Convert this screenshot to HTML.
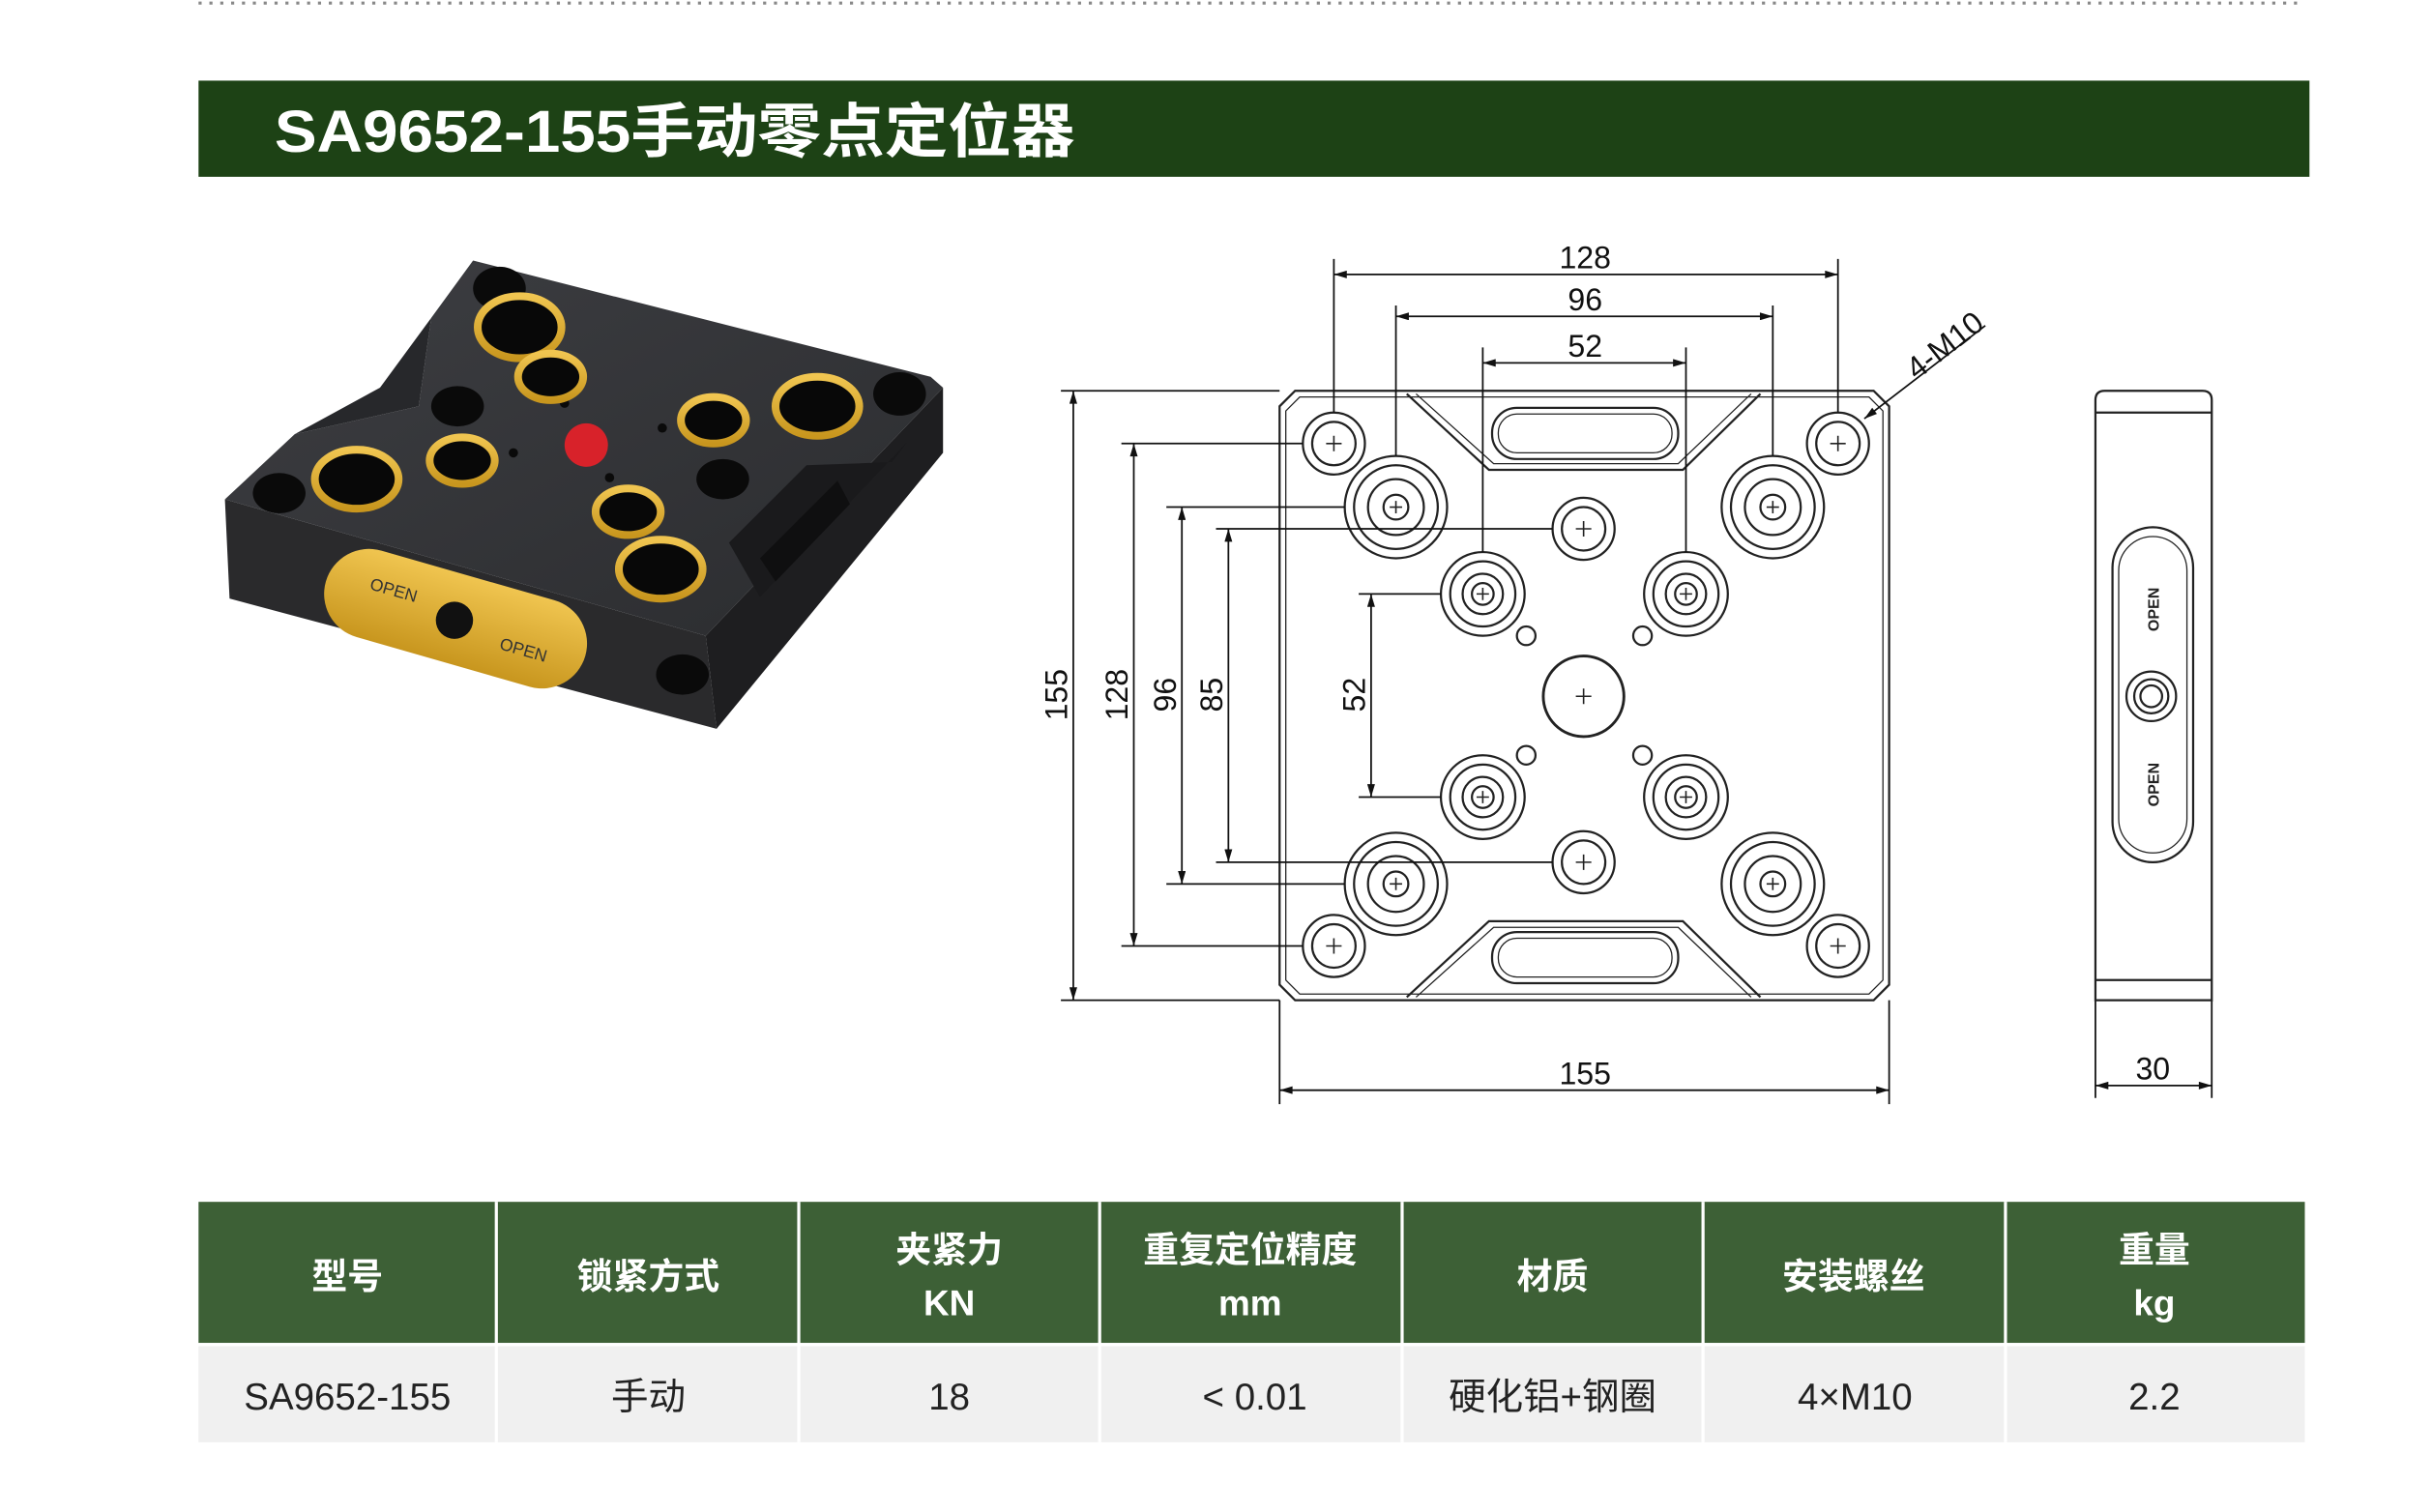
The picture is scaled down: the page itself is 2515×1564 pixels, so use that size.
<!DOCTYPE html>
<html><head><meta charset="utf-8"><style>
html,body{margin:0;padding:0;background:#fff;width:2515px;height:1564px;overflow:hidden}
svg{display:block}
</style></head><body>
<svg width="2515" height="1564" viewBox="0 0 1568 975" preserveAspectRatio="none" xmlns="http://www.w3.org/2000/svg">
<defs>
<marker id="a" viewBox="0 0 10 6" refX="10" refY="3" markerWidth="12" markerHeight="5" orient="auto-start-reverse" markerUnits="userSpaceOnUse"><path d="M0,0L10,3L0,6z" fill="#111"/></marker>
<linearGradient id="top" x1="0" y1="0" x2="1" y2="1"><stop offset="0" stop-color="#3d3e42"/><stop offset="1" stop-color="#2b2c2f"/></linearGradient>
<linearGradient id="gold" x1="0" y1="0" x2="0" y2="1"><stop offset="0" stop-color="#f0c550"/><stop offset="1" stop-color="#c8961e"/></linearGradient>
</defs>
<line x1="128" y1="2" x2="1485" y2="2" stroke="#888" stroke-width="2" stroke-dasharray="2,5"/>
<rect x="128" y="52" width="1361" height="62" fill="#1d4215"/>
<text x="177" y="98" fill="#fff" font-family="Liberation Sans Narrow,Liberation Sans,Noto Sans CJK SC,sans-serif" font-weight="bold" font-size="38" textLength="516" lengthAdjust="spacingAndGlyphs">SA9652-155手动零点定位器</text>

<!-- photo -->
<g>
<polygon points="145,322 455,410 462,470 148,386" fill="#2a2a2c"/>
<polygon points="455,410 608,250 608,292 462,470" fill="#1e1e20"/>
<polygon points="145,322 190,280 270,262 278,205 305,168 600,243 608,250 455,410" fill="url(#top)"/>
<polygon points="190,280 270,262 278,205 245,250" fill="#27282b"/>
<polygon points="470,350 520,300 575,298 585,285 490,385" fill="#1a1a1c"/>
<polygon points="490,360 540,310 548,325 500,375" fill="#0f0f10"/>
<g fill="#0a0a0a">
<ellipse cx="322" cy="186" rx="17" ry="14"/><ellipse cx="580" cy="254" rx="17" ry="14"/><ellipse cx="295" cy="262" rx="17" ry="13"/><ellipse cx="466" cy="309" rx="17" ry="13"/><ellipse cx="180" cy="318" rx="17" ry="13"/><ellipse cx="440" cy="435" rx="17" ry="13"/>
<circle cx="364" cy="260" r="3"/><circle cx="427" cy="276" r="3"/><circle cx="331" cy="292" r="3"/><circle cx="393" cy="308" r="3"/>
</g>
<g stroke="url(#gold)" stroke-width="5" fill="#080808">
<ellipse cx="335" cy="211" rx="27" ry="20"/><ellipse cx="355" cy="243" rx="21" ry="15"/><ellipse cx="527" cy="262" rx="27" ry="19"/><ellipse cx="460" cy="271" rx="21" ry="15"/><ellipse cx="298" cy="297" rx="21" ry="15"/><ellipse cx="230" cy="309" rx="27" ry="19"/><ellipse cx="405" cy="330" rx="21" ry="15"/><ellipse cx="426" cy="367" rx="27" ry="19"/>
</g>
<circle cx="378" cy="287" r="14" fill="#d8222a"/>
<g transform="rotate(16 294 398)"><rect x="207" y="370" width="174" height="58" rx="29" fill="url(#gold)"/>
<text x="235" y="396" font-family="Liberation Sans,sans-serif" font-size="11" fill="#333">OPEN</text>
<text x="326" y="410" font-family="Liberation Sans,sans-serif" font-size="11" fill="#333">OPEN</text></g>
<circle cx="293" cy="400" r="12" fill="#111"/>
</g>

<!-- drawing -->
<g fill="none" stroke="#222" stroke-width="1.4">
<path d="M835,252 L1208,252 L1218,262 L1218,635 L1208,645 L835,645 L825,635 L825,262 Z"/>
<path d="M838,256 L1205,256 L1214,265 L1214,632 L1205,641 L838,641 L829,632 L829,265 Z" stroke-width="0.8"/>
<path d="M907,254 L960,303 L1085,303 L1135,254"/>
<path d="M913,254 L963,299 L1082,299 L1129,254" stroke-width="0.8"/>
<path d="M907,643 L960,594 L1085,594 L1135,643"/>
<path d="M913,643 L963,598 L1082,598 L1129,643" stroke-width="0.8"/>
<rect x="962" y="263" width="120" height="33" rx="16"/>
<rect x="966" y="267" width="112" height="25" rx="12" stroke-width="0.8"/>
<rect x="962" y="601" width="120" height="33" rx="16"/>
<rect x="966" y="605" width="112" height="25" rx="12" stroke-width="0.8"/>
<circle cx="860" cy="286" r="20"/><circle cx="860" cy="286" r="14"/>
<circle cx="1185" cy="286" r="20"/><circle cx="1185" cy="286" r="14"/>
<circle cx="860" cy="610" r="20"/><circle cx="860" cy="610" r="14"/>
<circle cx="1185" cy="610" r="20"/><circle cx="1185" cy="610" r="14"/>
<g>
<circle cx="900" cy="327" r="33"/><circle cx="900" cy="327" r="27"/><circle cx="900" cy="327" r="18"/><circle cx="900" cy="327" r="8"/>
<circle cx="1143" cy="327" r="33"/><circle cx="1143" cy="327" r="27"/><circle cx="1143" cy="327" r="18"/><circle cx="1143" cy="327" r="8"/>
<circle cx="900" cy="570" r="33"/><circle cx="900" cy="570" r="27"/><circle cx="900" cy="570" r="18"/><circle cx="900" cy="570" r="8"/>
<circle cx="1143" cy="570" r="33"/><circle cx="1143" cy="570" r="27"/><circle cx="1143" cy="570" r="18"/><circle cx="1143" cy="570" r="8"/>
</g>
<circle cx="1021" cy="341" r="20"/><circle cx="1021" cy="341" r="14"/>
<circle cx="1021" cy="556" r="20"/><circle cx="1021" cy="556" r="14"/>
<g>
<circle cx="956" cy="383" r="27"/><circle cx="956" cy="383" r="21"/><circle cx="956" cy="383" r="13"/><circle cx="956" cy="383" r="7"/>
<circle cx="1087" cy="383" r="27"/><circle cx="1087" cy="383" r="21"/><circle cx="1087" cy="383" r="13"/><circle cx="1087" cy="383" r="7"/>
<circle cx="956" cy="514" r="27"/><circle cx="956" cy="514" r="21"/><circle cx="956" cy="514" r="13"/><circle cx="956" cy="514" r="7"/>
<circle cx="1087" cy="514" r="27"/><circle cx="1087" cy="514" r="21"/><circle cx="1087" cy="514" r="13"/><circle cx="1087" cy="514" r="7"/>
</g>
<circle cx="984" cy="410" r="6"/><circle cx="1059" cy="410" r="6"/><circle cx="984" cy="487" r="6"/><circle cx="1059" cy="487" r="6"/>
<circle cx="1021" cy="449" r="26" stroke-width="1.8"/>
</g>
<g stroke="#222" stroke-width="1">
<path d="M855,286h10M860,281v10M1180,286h10M1185,281v10M855,610h10M860,605v10M1180,610h10M1185,605v10M1016,341h10M1021,336v10M1016,556h10M1021,551v10M1016,449h10M1021,444v10M896,327h8M900,323v8M1139,327h8M1143,323v8M896,570h8M900,566v8M1139,570h8M1143,566v8M952,383h8M956,379v8M1083,383h8M1087,379v8M952,514h8M956,510v8M1083,514h8M1087,510v8"/>
</g>
<g stroke="#111" stroke-width="1.1" fill="none">
<path d="M860,167V266M1185,167V266M900,197V294M1143,197V294M956,224V356M1087,224V356"/>
<line x1="860" y1="177" x2="1185" y2="177" marker-start="url(#a)" marker-end="url(#a)"/>
<line x1="900" y1="204" x2="1143" y2="204" marker-start="url(#a)" marker-end="url(#a)"/>
<line x1="956" y1="234" x2="1087" y2="234" marker-start="url(#a)" marker-end="url(#a)"/>
<path d="M825,645V712M1218,645V712"/>
<line x1="825" y1="703" x2="1218" y2="703" marker-start="url(#a)" marker-end="url(#a)"/>
<path d="M684,252H825M684,645H825M723,286H840M723,610H840M752,327H867M752,570H867M784,341H1001M784,556H1001M876,383H929M876,514H929"/>
<line x1="692" y1="252" x2="692" y2="645" marker-start="url(#a)" marker-end="url(#a)"/>
<line x1="731" y1="286" x2="731" y2="610" marker-start="url(#a)" marker-end="url(#a)"/>
<line x1="762" y1="327" x2="762" y2="570" marker-start="url(#a)" marker-end="url(#a)"/>
<line x1="792" y1="341" x2="792" y2="556" marker-start="url(#a)" marker-end="url(#a)"/>
<line x1="884" y1="383" x2="884" y2="514" marker-start="url(#a)" marker-end="url(#a)"/>
<line x1="1280" y1="210" x2="1202" y2="270" marker-end="url(#a)"/>
<path d="M1351,645V708M1426,645V708"/>
<line x1="1351" y1="700" x2="1426" y2="700" marker-start="url(#a)" marker-end="url(#a)"/>
</g>
<g font-family="Liberation Sans Narrow,Liberation Sans,sans-serif" font-size="20" fill="#111" text-anchor="middle">
<text x="1022" y="173">128</text><text x="1022" y="200">96</text><text x="1022" y="230">52</text>
<text x="1022" y="699">155</text><text x="1388" y="696">30</text>
<text transform="translate(688,448) rotate(-90)">155</text>
<text transform="translate(727,448) rotate(-90)">128</text>
<text transform="translate(758,448) rotate(-90)">96</text>
<text transform="translate(788,448) rotate(-90)">85</text>
<text transform="translate(880,448) rotate(-90)">52</text>
<text transform="translate(1258,228) rotate(-38)">4-M10</text>
</g>
<g fill="none" stroke="#222" stroke-width="1.4">
<path d="M1351,645V258Q1351,252 1357,252H1420Q1426,252 1426,258V645Z"/>
<path d="M1351,266H1426M1351,632H1426"/>
<rect x="1362" y="340" width="52" height="216" rx="26"/>
<rect x="1366" y="346" width="44" height="204" rx="22" stroke-width="0.8"/>
<circle cx="1387" cy="449" r="16"/><circle cx="1387" cy="449" r="11"/><circle cx="1387" cy="449" r="7"/>
</g>
<g font-family="Liberation Sans,sans-serif" font-weight="bold" font-size="10" fill="#222" text-anchor="middle">
<text transform="translate(1392,393) rotate(-90)">OPEN</text>
<text transform="translate(1392,506) rotate(-90)">OPEN</text>
</g>
<rect x="128" y="775" width="1358" height="91" fill="#3d6036"/>
<rect x="128" y="868" width="1358" height="62" fill="#f0f0f0"/>
<g stroke="#fff" stroke-width="2"><path d="M320,775V930M515,775V930M709,775V930M904,775V930M1098,775V930M1293,775V930M128,867H1486"/></g>
<g font-family="Liberation Sans,Noto Sans CJK SC,sans-serif" font-weight="bold" font-size="23" fill="#fff" text-anchor="middle">
<text x="224" y="831">型号</text><text x="418" y="831">锁紧方式</text>
<text x="612" y="814">夹紧力</text><text x="612" y="848">KN</text>
<text x="806" y="814">重复定位精度</text><text x="806" y="848">mm</text>
<text x="1001" y="831">材质</text><text x="1195" y="831">安装螺丝</text>
<text x="1389" y="814">重量</text><text x="1389" y="848">kg</text>
</g>
<g font-family="Liberation Sans,Noto Sans CJK SC,sans-serif" font-size="24" fill="#222" text-anchor="middle">
<text x="224" y="909">SA9652-155</text><text x="418" y="909">手动</text><text x="612" y="909">18</text><text x="809" y="909">&lt; 0.01</text><text x="1001" y="909">硬化铝+钢圈</text><text x="1196" y="909">4×M10</text><text x="1389" y="909">2.2</text>
</g>
</svg>
</body></html>
